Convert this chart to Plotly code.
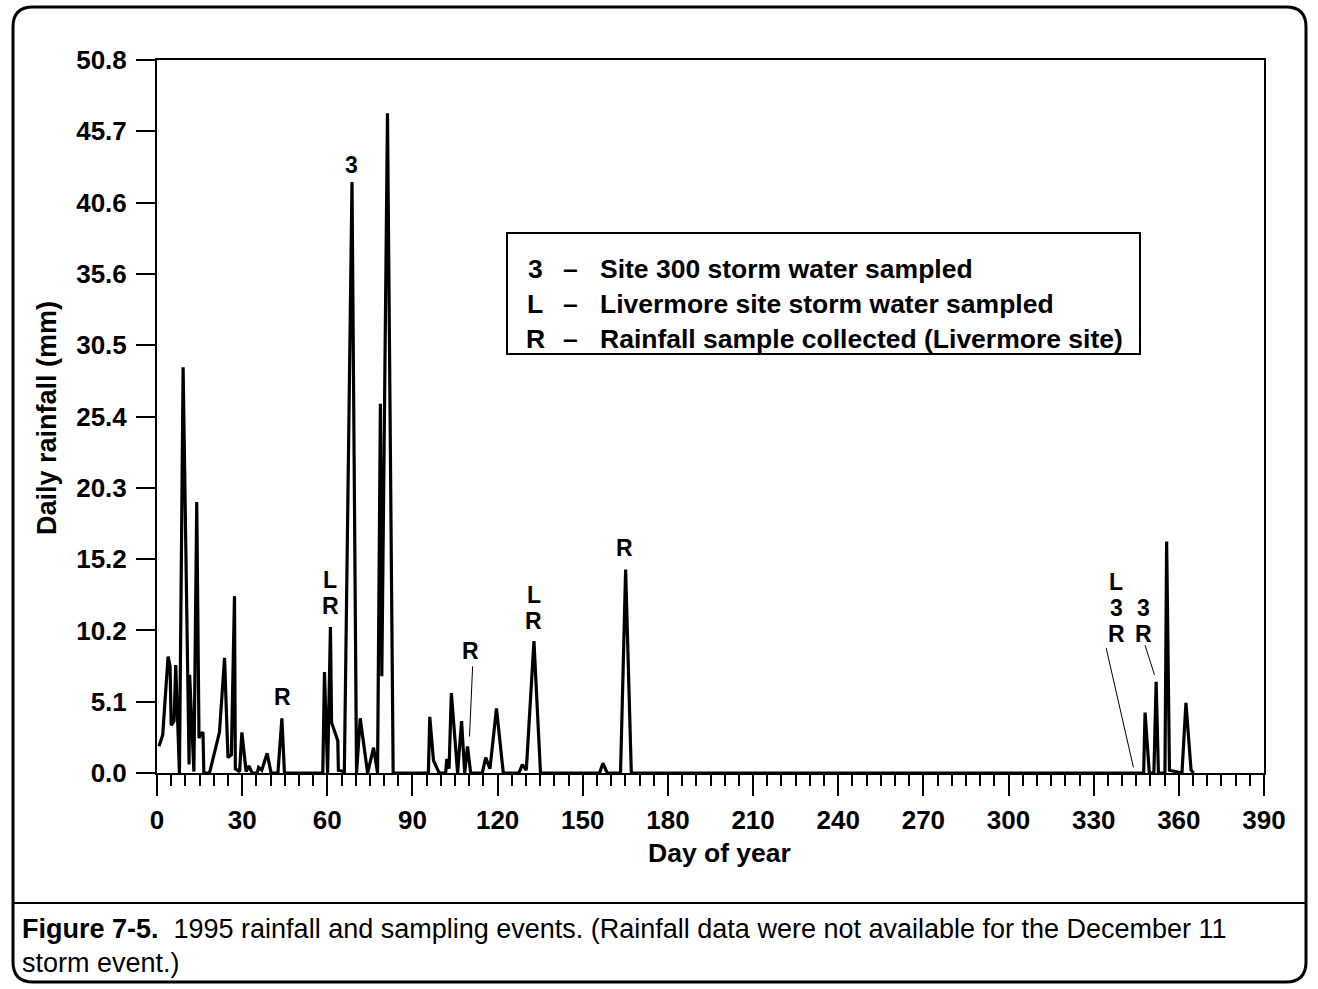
import plotly.graph_objects as go

# ---------------- data ----------------
days = [0.7, 2.0, 3.9, 4.6, 5.0, 6.0, 6.6, 7.9, 9.2, 11.3, 11.5, 13.0, 14.0, 14.8, 15.6, 16.2,
        16.5, 18.5, 22.0, 23.8, 25.0, 26.2, 27.3, 27.6, 29.1, 29.9, 31.4, 32.4, 33.5, 35.3,
        35.8, 36.9, 38.8, 40.2, 42.6, 44.0, 44.9,
        58.4, 59.0, 60.1, 61.1, 61.5, 63.7, 63.9, 66.0, 68.7, 70.3, 71.6, 74.2, 76.3, 77.7,
        78.7, 79.2, 81.2, 83.2,
        95.6, 96.1, 97.4, 99.4, 101.7, 102.1, 102.9, 103.7, 105.9, 107.3, 108.4, 109.4, 110.5,
        114.6, 115.8, 117.3, 119.6, 122.0, 127.5, 128.7, 130.1, 132.8, 135.1, 155.9, 157.1,
        158.6, 163.3, 165.1, 167.1,
        347.6, 348.1, 349.6, 351.2, 352.0, 352.8, 355.1, 355.7, 356.7, 361.1, 362.5, 364.3, 365.2]
rain_mm = [1.9, 2.7, 8.3, 7.6, 3.4, 3.7, 7.7, 0.0, 28.9, 0.6, 7.0, 0.1, 19.3, 2.5, 2.8, 2.9,
           0.0, 0.0, 2.9, 8.2, 1.1, 1.3, 12.6, 0.3, 0.1, 2.9, 0.1, 0.5, 0.0, 0.0,
           0.4, 0.2, 1.4, 0.0, 0.0, 3.9, 0.0,
           0.0, 7.2, 0.0, 10.4, 3.6, 2.3, 0.2, 0.1, 42.1, 0.0, 3.9, 0.0, 1.8, 0.0,
           26.3, 6.9, 47.0, 0.0,
           0.0, 4.0, 0.9, 0.0, 0.0, 1.0, 0.3, 5.7, 0.0, 3.7, 0.0, 1.9, 0.0,
           0.0, 1.1, 0.3, 4.6, 0.0, 0.0, 0.6, 0.2, 9.4, 0.0, 0.0, 0.7,
           0.0, 0.0, 14.5, 0.0,
           0.0, 4.3, 0.0, 0.0, 6.5, 0.0, 0.0, 16.5, 0.2, 0.0, 5.0, 0.2, 0.0]

y_tick_vals = [0.0, 5.08, 10.16, 15.24, 20.32, 25.4, 30.48, 35.56, 40.64, 45.72, 50.8]
y_tick_text = ["0.0", "5.1", "10.2", "15.2", "20.3", "25.4", "30.5", "35.6", "40.6", "45.7", "50.8"]

# sampling-event labels: (day, mm, letter)
event_labels = [
    (44.2, 5.4, "R"),
    (61.1, 13.77, "L"), (61.1, 11.92, "R"),
    (68.5, 43.3, "3"),
    (110.3, 8.7, "R"),
    (132.8, 12.70, "L"), (132.8, 10.85, "R"),
    (164.8, 16.0, "R"),
    (337.9, 13.63, "L"), (337.9, 11.77, "3"), (337.9, 9.92, "R"),
    (347.6, 11.77, "3"), (347.6, 9.92, "R"),
]
# leader lines: (day0, mm0, day1, mm1)
leaders = [
    (111.2, 7.6, 110.1, 2.6),
    (334.4, 8.9, 344.0, 0.4),
    (348.1, 9.1, 351.4, 7.0),
]

legend_rows = [
    ("3", "Site 300 storm water sampled"),
    ("L", "Livermore site storm water sampled"),
    ("R", "Rainfall sample collected (Livermore site)"),
]
caption_bold = "Figure 7-5."
caption_rest_1 = "1995 rainfall and sampling events. (Rainfall data were not available for the December 11"
caption_rest_2 = "storm event.)"

# ---------------- layout helpers ----------------
W, H = 1318, 989
L, R, T, B = 157, 54, 60, 216
PW, PH = W - L - R, H - T - B
FONT = "Arial, Liberation Sans, sans-serif"


def px(x):
    return (x - L) / PW


def py(y):
    return (H - B - y) / PH


fig = go.Figure()
fig.add_trace(go.Scatter(x=days, y=rain_mm, mode="lines",
                         line=dict(color="black", width=3.2),
                         hoverinfo="skip", showlegend=False))

annotations = []
for d, m, t in event_labels:
    annotations.append(dict(x=d, y=m, xref="x", yref="y", text=t, showarrow=False,
                            xanchor="center", yanchor="middle",
                            font=dict(family=FONT, size=23, color="black", weight="bold")))

shapes = []
for d0, m0, d1, m1 in leaders:
    shapes.append(dict(type="line", xref="x", yref="y", x0=d0, y0=m0, x1=d1, y1=m1,
                       line=dict(color="black", width=1)))

# legend box
shapes.append(dict(type="rect", xref="paper", yref="paper",
                   x0=px(507), x1=px(1140), y0=py(354), y1=py(233),
                   line=dict(color="black", width=2), fillcolor="white", layer="below"))
for i, (sym, txt) in enumerate(legend_rows):
    yy = py(269 + 35 * i)
    fnt = dict(family=FONT, size=26.5, color="black", weight="bold")
    annotations.append(dict(x=px(535), y=yy, xref="paper", yref="paper", text=sym,
                            showarrow=False, xanchor="center", yanchor="middle", font=fnt))
    annotations.append(dict(x=px(570), y=yy, xref="paper", yref="paper", text="\u2013",
                            showarrow=False, xanchor="center", yanchor="middle", font=fnt))
    annotations.append(dict(x=px(598), y=yy, xref="paper", yref="paper", text=txt,
                            showarrow=False, xanchor="left", yanchor="middle", font=fnt))

# axis titles
annotations.append(dict(x=px(719), y=py(853), xref="paper", yref="paper", text="Day of year",
                        showarrow=False, xanchor="center", yanchor="middle",
                        font=dict(family=FONT, size=26.5, color="black", weight="bold")))
annotations.append(dict(x=px(47), y=py(418), xref="paper", yref="paper",
                        text="Daily rainfall (mm)", textangle=-90,
                        showarrow=False, xanchor="center", yanchor="middle",
                        font=dict(family=FONT, size=27, color="black", weight="bold")))

# caption
annotations.append(dict(x=px(20), y=py(929), xref="paper", yref="paper",
                        text="<b>" + caption_bold + "</b>\u00a0\u00a0" + caption_rest_1,
                        showarrow=False, xanchor="left", yanchor="middle",
                        font=dict(family=FONT, size=27, color="black")))
annotations.append(dict(x=px(20), y=py(963), xref="paper", yref="paper",
                        text=caption_rest_2,
                        showarrow=False, xanchor="left", yanchor="middle",
                        font=dict(family=FONT, size=27, color="black")))

# outer rounded frame and caption separator
x0, x1, y0, y1, r = 13, 1306, 7, 982, 20
path = (f"M {px(x0 + r)},{py(y0)} L {px(x1 - r)},{py(y0)} "
        f"Q {px(x1)},{py(y0)} {px(x1)},{py(y0 + r)} "
        f"L {px(x1)},{py(y1 - r)} Q {px(x1)},{py(y1)} {px(x1 - r)},{py(y1)} "
        f"L {px(x0 + r)},{py(y1)} Q {px(x0)},{py(y1)} {px(x0)},{py(y1 - r)} "
        f"L {px(x0)},{py(y0 + r)} Q {px(x0)},{py(y0)} {px(x0 + r)},{py(y0)} Z")
shapes.append(dict(type="path", xref="paper", yref="paper", path=path,
                   line=dict(color="black", width=3)))
shapes.append(dict(type="line", xref="paper", yref="paper",
                   x0=px(x0), x1=px(x1), y0=py(903), y1=py(903),
                   line=dict(color="black", width=2)))

tickfont = dict(family=FONT, size=26, color="black", weight="bold")
fig.update_layout(
    width=W, height=H, autosize=False,
    margin=dict(l=L, r=R, t=T, b=B, pad=0),
    paper_bgcolor="white", plot_bgcolor="white",
    showlegend=False,
    xaxis=dict(range=[0, 390], tickmode="linear", tick0=0, dtick=30,
               ticks="outside", ticklen=21, tickwidth=2, tickcolor="black",
               showline=True, linecolor="black", linewidth=2, mirror=True,
               showgrid=False, zeroline=False, tickfont=tickfont, ticklabelstandoff=2,
               minor=dict(tick0=0, dtick=5, ticks="outside", ticklen=11,
                          tickwidth=1.5, tickcolor="black", showgrid=False)),
    yaxis=dict(range=[0, 50.8001], tickmode="array", tickvals=y_tick_vals, ticktext=y_tick_text,
               ticks="outside", ticklen=19, tickwidth=2, tickcolor="black",
               showline=True, linecolor="black", linewidth=2, mirror=True,
               showgrid=False, zeroline=False, tickfont=tickfont, ticklabelstandoff=4),
    annotations=annotations,
    shapes=shapes,
)

fig.write_html("out.html", config={"displayModeBar": False},
               post_script="document.body.style.margin='0';")
